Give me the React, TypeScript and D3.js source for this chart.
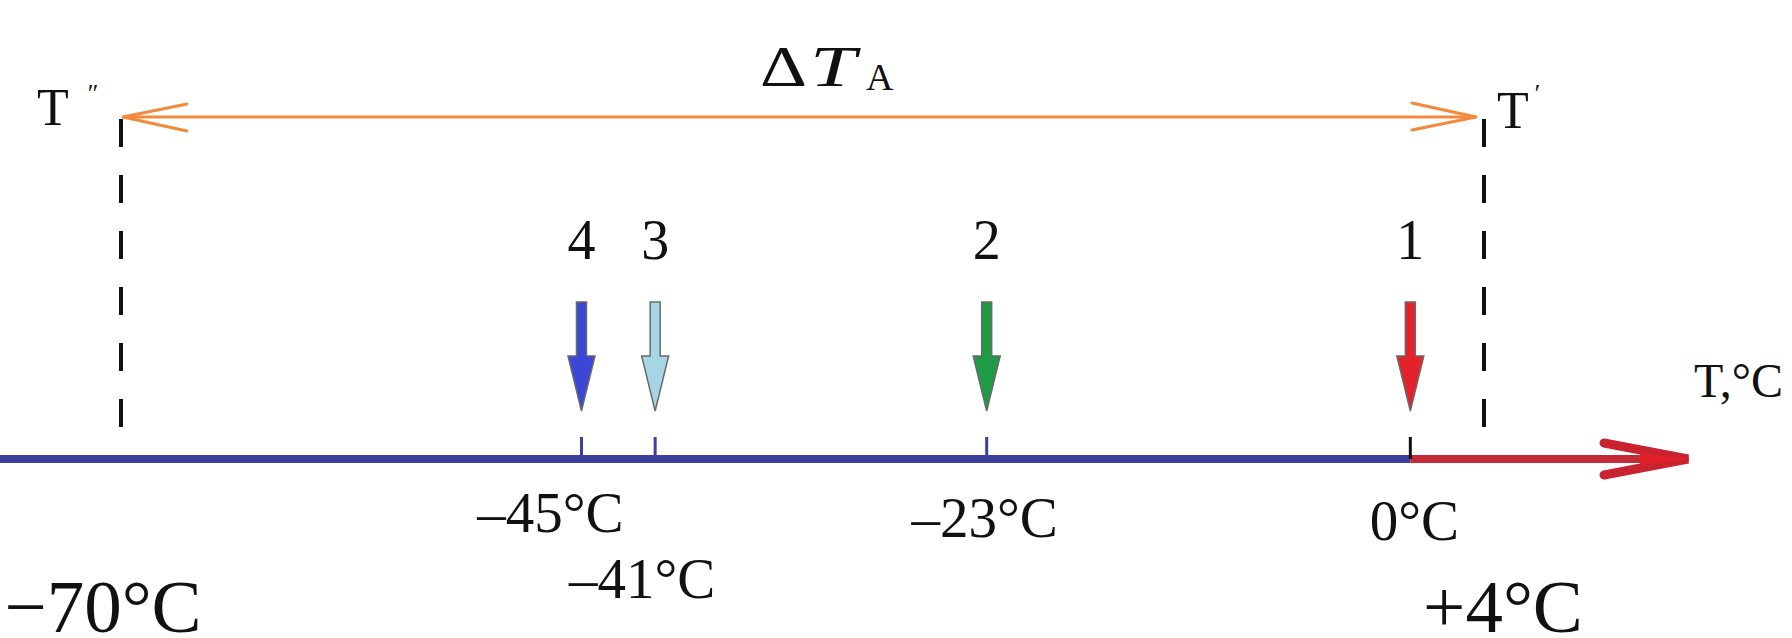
import { scaleLinear, line } from "d3"

// temperature scale end points (T'' and T')
const rangeEnds = [-70, 4]

// numbered arrows
const markerIds = ["1", "2", "3", "4"]
const markerTemps = [0, -23, -41, -45]
const markerColors = ["#e5212b", "#1f9a45", "#a6d6e4", "#3b47d6"]

// labels written under the axis
const tickValues = [-70, -45, -41, -23, 0, 4]
const tickLabels = ["\u221270\u00b0C", "\u201345\u00b0C", "\u201341\u00b0C", "\u201323\u00b0C", "0\u00b0C", "+4\u00b0C"]

const WIDTH = 1792
const HEIGHT = 638
const AXIS_Y = 459
const FONT = "'Liberation Serif', 'Times New Roman', serif"

// nudges so labels sit like in the original drawing
const labelLayout: Record<number, { dx: number; y: number; size: number }> = {
  [-70]: { dx: -18, y: 632, size: 75 },
  [-45]: { dx: -31, y: 532, size: 57 },
  [-41]: { dx: -13, y: 598, size: 57 },
  [-23]: { dx: -2, y: 537, size: 57 },
  [0]: { dx: 4, y: 540, size: 57 },
  [4]: { dx: 19, y: 632, size: 75 },
}

function App() {
  const x = scaleLinear().domain(rangeEnds).range([121, 1484])
  const path = line<[number, number]>()

  const arrowTop = 302
  const headTop = 356
  const tip = 411
  const shaft = 5
  const head = 13.5

  const xLeft = x(rangeEnds[0])
  const xRight = x(rangeEnds[1])
  const x0 = x(0)
  const orangeY = 117

  return (
    <svg
      width={WIDTH}
      height={HEIGHT}
      viewBox={`0 0 ${WIDTH} ${HEIGHT}`}
      style={{ position: "absolute", left: 0, top: 0, background: "#fff" }}
      fontFamily={FONT}
    >
      {/* title: delta T with subscript A */}
      <text x={760} y={86} fontSize={58} fill="#111" textLength={47} lengthAdjust="spacingAndGlyphs">
        {"\u0394"}
      </text>
      <text x={810} y={86} fontSize={58} fontStyle="italic" fill="#111" textLength={46} lengthAdjust="spacingAndGlyphs">
        T
      </text>
      <text x={866} y={90} fontSize={38} fill="#111">A</text>

      {/* orange double arrow */}
      <g stroke="#f28a3c" strokeWidth={3} fill="none" strokeLinecap="round">
        <path d={path([[xLeft + 2, orangeY], [xRight - 8, orangeY]]) ?? ""} />
        <path d={path([[xLeft + 66, orangeY - 13], [xLeft + 2, orangeY], [xLeft + 66, orangeY + 14]]) ?? ""} />
        <path d={path([[xRight - 72, orangeY - 14], [xRight - 8, orangeY], [xRight - 72, orangeY + 13]]) ?? ""} />
      </g>

      {/* dashed range limits */}
      {rangeEnds.map((t) => (
        <line
          key={t}
          x1={x(t)}
          x2={x(t)}
          y1={orangeY + 2}
          y2={AXIS_Y - 6}
          stroke="#111"
          strokeWidth={4}
          strokeDasharray="28 28"
        />
      ))}
      <text x={37} y={125} fontSize={52} fill="#111">T</text>
      <text x={86} y={102} fontSize={26} fontStyle="italic" fill="#111">{"\u2033"}</text>
      <text x={1497} y={128} fontSize={52} fill="#111">T</text>
      <text x={1533} y={102} fontSize={26} fontStyle="italic" fill="#111">{"\u2032"}</text>

      {/* axis: blue below zero, red above */}
      <line x1={0} x2={x0} y1={AXIS_Y} y2={AXIS_Y} stroke="#3c3f9c" strokeWidth={8} />
      <line x1={x0} x2={1680} y1={AXIS_Y} y2={AXIS_Y} stroke="#c22a38" strokeWidth={8} />
      <path
        d={path([[1604, AXIS_Y - 16], [1688, AXIS_Y], [1604, AXIS_Y + 16]]) ?? ""}
        stroke="#c9232f"
        strokeWidth={9}
        fill="none"
        strokeLinecap="round"
        strokeLinejoin="miter"
      />
      <path
        d={path([[1640, AXIS_Y - 6], [1690, AXIS_Y], [1640, AXIS_Y + 6]]) + "Z"}
        fill="#e02028"
      />
      <text x={1694} y={397} fontSize={48} fill="#111">T,°C</text>

      {/* ticks at marker temperatures */}
      {markerTemps.map((t) => (
        <line
          key={t}
          x1={x(t)}
          x2={x(t)}
          y1={AXIS_Y - 22}
          y2={AXIS_Y}
          stroke={t === 0 ? "#111" : "#3c3f9c"}
          strokeWidth={3}
        />
      ))}

      {/* numbered arrows */}
      {markerTemps.map((t, i) => {
        const cx = x(t)
        const d = path([
          [cx - shaft, arrowTop],
          [cx + shaft, arrowTop],
          [cx + shaft, headTop],
          [cx + head, headTop],
          [cx, tip],
          [cx - head, headTop],
          [cx - shaft, headTop],
        ]) + "Z"
        return (
          <g key={markerIds[i]}>
            <path d={d} fill={markerColors[i]} stroke="#6a6a6a" strokeWidth={1.5} />
            <text x={cx} y={259} fontSize={56} textAnchor="middle" fill="#111">
              {markerIds[i]}
            </text>
          </g>
        )
      })}

      {/* temperature labels */}
      {tickValues.map((t, i) => {
        const l = labelLayout[t]
        return (
          <text
            key={t}
            x={x(t) + l.dx}
            y={l.y}
            fontSize={l.size}
            textAnchor="middle"
            fill="#111"
          >
            {tickLabels[i]}
          </text>
        )
      })}
    </svg>
  )
}

export default App
